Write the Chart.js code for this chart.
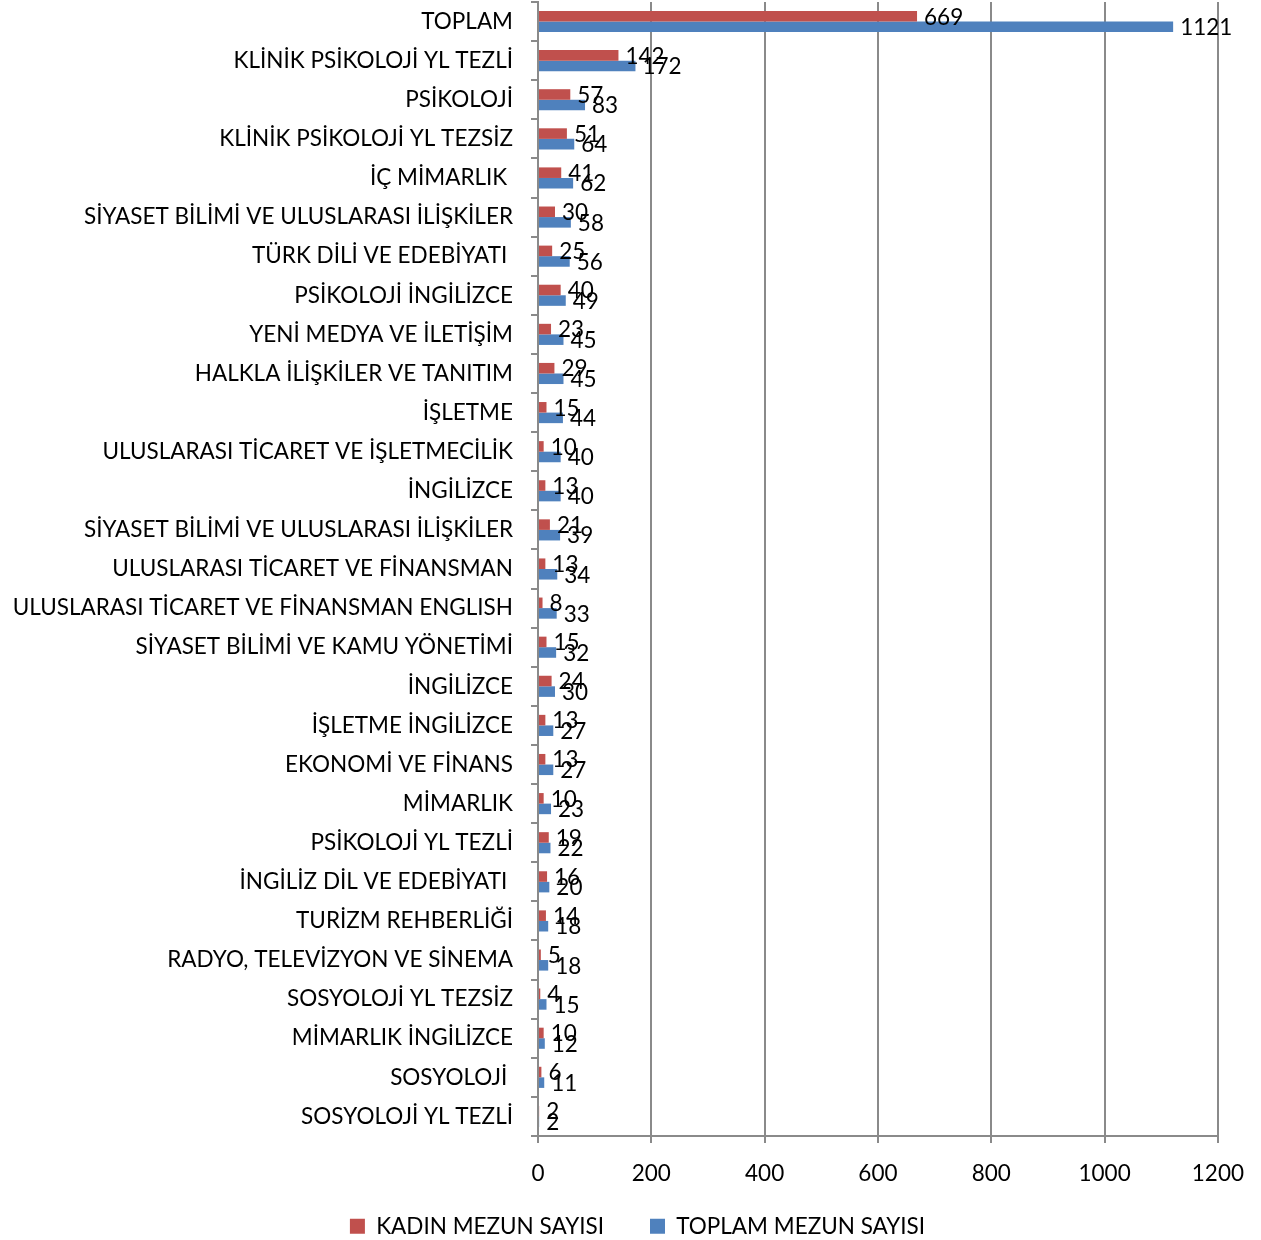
<!DOCTYPE html>
<html>
<head>
<meta charset="utf-8">
<script src="https://cdn.jsdelivr.net/npm/chart.js@4.4.1/dist/chart.umd.min.js"></script>
<style>
  body { margin: 0; background: #fff; }
  #wrap { width: 1261px; height: 1240px; }
</style>
</head>
<body>
<div id="wrap"><canvas id="chart"></canvas></div>
<script>
// programlar (yukaridan asagiya)
const programs = [
  'TOPLAM',
  'KLİNİK PSİKOLOJİ YL TEZLİ',
  'PSİKOLOJİ',
  'KLİNİK PSİKOLOJİ YL TEZSİZ',
  'İÇ MİMARLIK ',
  'SİYASET BİLİMİ VE ULUSLARASI İLİŞKİLER',
  'TÜRK DİLİ VE EDEBİYATI ',
  'PSİKOLOJİ İNGİLİZCE',
  'YENİ MEDYA VE İLETİŞİM',
  'HALKLA İLİŞKİLER VE TANITIM',
  'İŞLETME',
  'ULUSLARASI TİCARET VE İŞLETMECİLİK',
  'İNGİLİZCE',
  'SİYASET BİLİMİ VE ULUSLARASI İLİŞKİLER',
  'ULUSLARASI TİCARET VE FİNANSMAN',
  'ULUSLARASI TİCARET VE FİNANSMAN ENGLISH',
  'SİYASET BİLİMİ VE KAMU YÖNETİMİ',
  'İNGİLİZCE',
  'İŞLETME İNGİLİZCE',
  'EKONOMİ VE FİNANS',
  'MİMARLIK',
  'PSİKOLOJİ YL TEZLİ',
  'İNGİLİZ DİL VE EDEBİYATI ',
  'TURİZM REHBERLİĞİ',
  'RADYO, TELEVİZYON VE SİNEMA',
  'SOSYOLOJİ YL TEZSİZ',
  'MİMARLIK İNGİLİZCE',
  'SOSYOLOJİ ',
  'SOSYOLOJİ YL TEZLİ'
];

const kadinMezun  = [669, 142, 57, 51, 41, 30, 25, 40, 23, 29, 15, 10, 13, 21, 13, 8, 15, 24, 13, 13, 10, 19, 16, 14, 5, 4, 10, 6, 2];
const toplamMezun = [1121, 172, 83, 64, 62, 58, 56, 49, 45, 45, 44, 40, 40, 39, 34, 33, 32, 30, 27, 27, 23, 22, 20, 18, 18, 15, 12, 11, 2];

const seriesNames = ['KADIN MEZUN SAYISI', 'TOPLAM MEZUN SAYISI'];
const xMin = 0, xMax = 1200, xStep = 200;

const FONT = 'Lato';
const FS = 22.5;
const GRID = '#8a8a8a';

Chart.defaults.font.family = FONT;
Chart.defaults.font.size = FS;
Chart.defaults.color = '#000';

// sayilar cubuk ucunda
const valueLabels = {
  id: 'valueLabels',
  afterDatasetsDraw(chart) {
    const ctx = chart.ctx;
    ctx.save();
    ctx.font = FS + 'px ' + FONT;
    ctx.fillStyle = '#000';
    ctx.textAlign = 'left';
    ctx.textBaseline = 'middle';
    chart.data.datasets.forEach((ds, i) => {
      chart.getDatasetMeta(i).data.forEach((bar, j) => {
        ctx.fillText(String(ds.data[j]), bar.x + 7, bar.y + 1);
      });
    });
    ctx.restore();
  }
};

// lejant biraz saga ve asagi
const legendPlace = {
  id: 'legendPlace',
  afterLayout(chart) {
    const lg = chart.legend;
    if (!lg) return;
    lg.left = 57;
    lg.top = 1215 - lg.options.labels.padding;
  }
};

new Chart(document.getElementById('chart'), {
  type: 'bar',
  data: {
    labels: programs,
    datasets: [
      { label: seriesNames[0], data: kadinMezun, backgroundColor: '#C0504D' },
      { label: seriesNames[1], data: toplamMezun, backgroundColor: '#4F81BD' }
    ]
  },
  plugins: [valueLabels, legendPlace],
  options: {
    indexAxis: 'y',
    responsive: true,
    maintainAspectRatio: false,
    animation: false,
    datasets: { bar: { categoryPercentage: 0.54, barPercentage: 1 } },
    layout: { padding: { top: 2, right: 43, left: 0, bottom: 0 } },
    plugins: {
      tooltip: { enabled: false },
      legend: {
        position: 'bottom',
        maxHeight: 42,
        labels: { boxWidth: 15, boxHeight: 15, padding: 46, font: { size: FS } }
      }
    },
    scales: {
      x: {
        min: xMin, max: xMax,
        ticks: { stepSize: xStep, padding: 17, font: { size: FS }, callback: v => String(v) },
        grid: { color: GRID, lineWidth: 2, tickLength: 7 },
        border: { color: GRID, width: 2 },
        afterFit(scale) { scale.height = 62; }
      },
      y: {
        ticks: { padding: 18, autoSkip: false, font: { size: FS } },
        grid: { drawOnChartArea: false, color: GRID, lineWidth: 2, tickLength: 7 },
        border: { color: GRID, width: 2 },
        afterFit(scale) {
          scale.width = 538;
          scale.paddingTop = 0;
          scale.paddingBottom = 0;
        }
      }
    }
  }
});
</script>
</body>
</html>
